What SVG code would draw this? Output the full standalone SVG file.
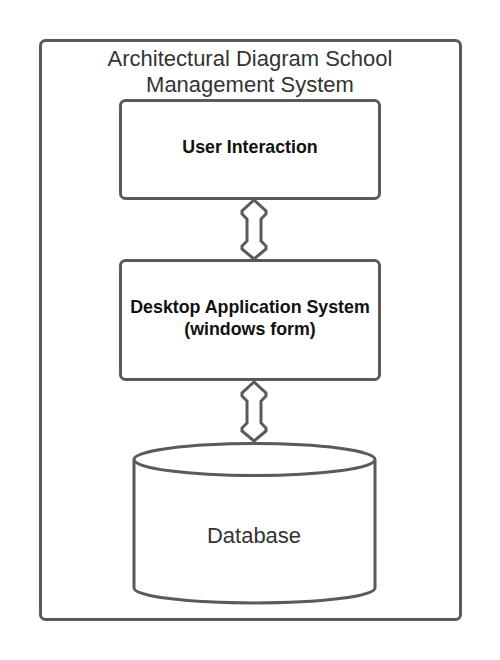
<svg xmlns="http://www.w3.org/2000/svg" width="500" height="660" viewBox="0 0 500 660">
<style>
.shape{fill:#fff;stroke:#5a5a5a;stroke-width:3}
.arrow{fill:#fff;stroke:#5a5a5a;stroke-width:3;stroke-linejoin:miter}
.title{font-family:"Liberation Sans",Arial,sans-serif;font-size:22px;fill:#333;text-anchor:middle}
.bold{font-family:"Liberation Sans",Arial,sans-serif;font-size:17.8px;font-weight:bold;fill:#111;text-anchor:middle}
.label{font-family:"Liberation Sans",Arial,sans-serif;font-size:22px;fill:#333;text-anchor:middle}
</style>
<rect width="500" height="660" fill="#fff"/>
<g id="frame">
<rect class="shape" x="40.5" y="40.5" width="420" height="579" rx="5"/>
<text class="title" x="250" y="66">Architectural Diagram School</text>
<text class="title" x="250" y="92">Management System</text>
</g>
<g id="user-interaction">
<rect class="shape" x="120.5" y="100.5" width="259" height="98" rx="5"/>
<text class="bold" x="250" y="153">User Interaction</text>
</g>
<g id="desktop-app">
<rect class="shape" x="120.5" y="260.5" width="259" height="119" rx="5"/>
<text class="bold" x="250" y="313">Desktop Application System</text>
<text class="bold" x="250" y="335">(windows form)</text>
</g>
<g id="database">
<path class="shape" d="M134,460 L134,588 A120.5,15 0 0 0 375,588 L375,460"/>
<ellipse class="shape" cx="254.5" cy="459.5" rx="120.5" ry="16"/>
<text class="label" x="254" y="543">Database</text>
</g>
<g id="connectors">
<path class="arrow" d="M254,200 L242,211 L242,214 L247,219 L247,241 L242,246 L242,249 L254,259 L266,249 L266,246 L261,241 L261,219 L266,214 L266,211 Z"/>
<path class="arrow" d="M254,382 L242,393 L242,396 L247,401 L247,423 L242,428 L242,431 L254,441 L266,431 L266,428 L261,423 L261,401 L266,396 L266,393 Z"/>
</g>
</svg>
